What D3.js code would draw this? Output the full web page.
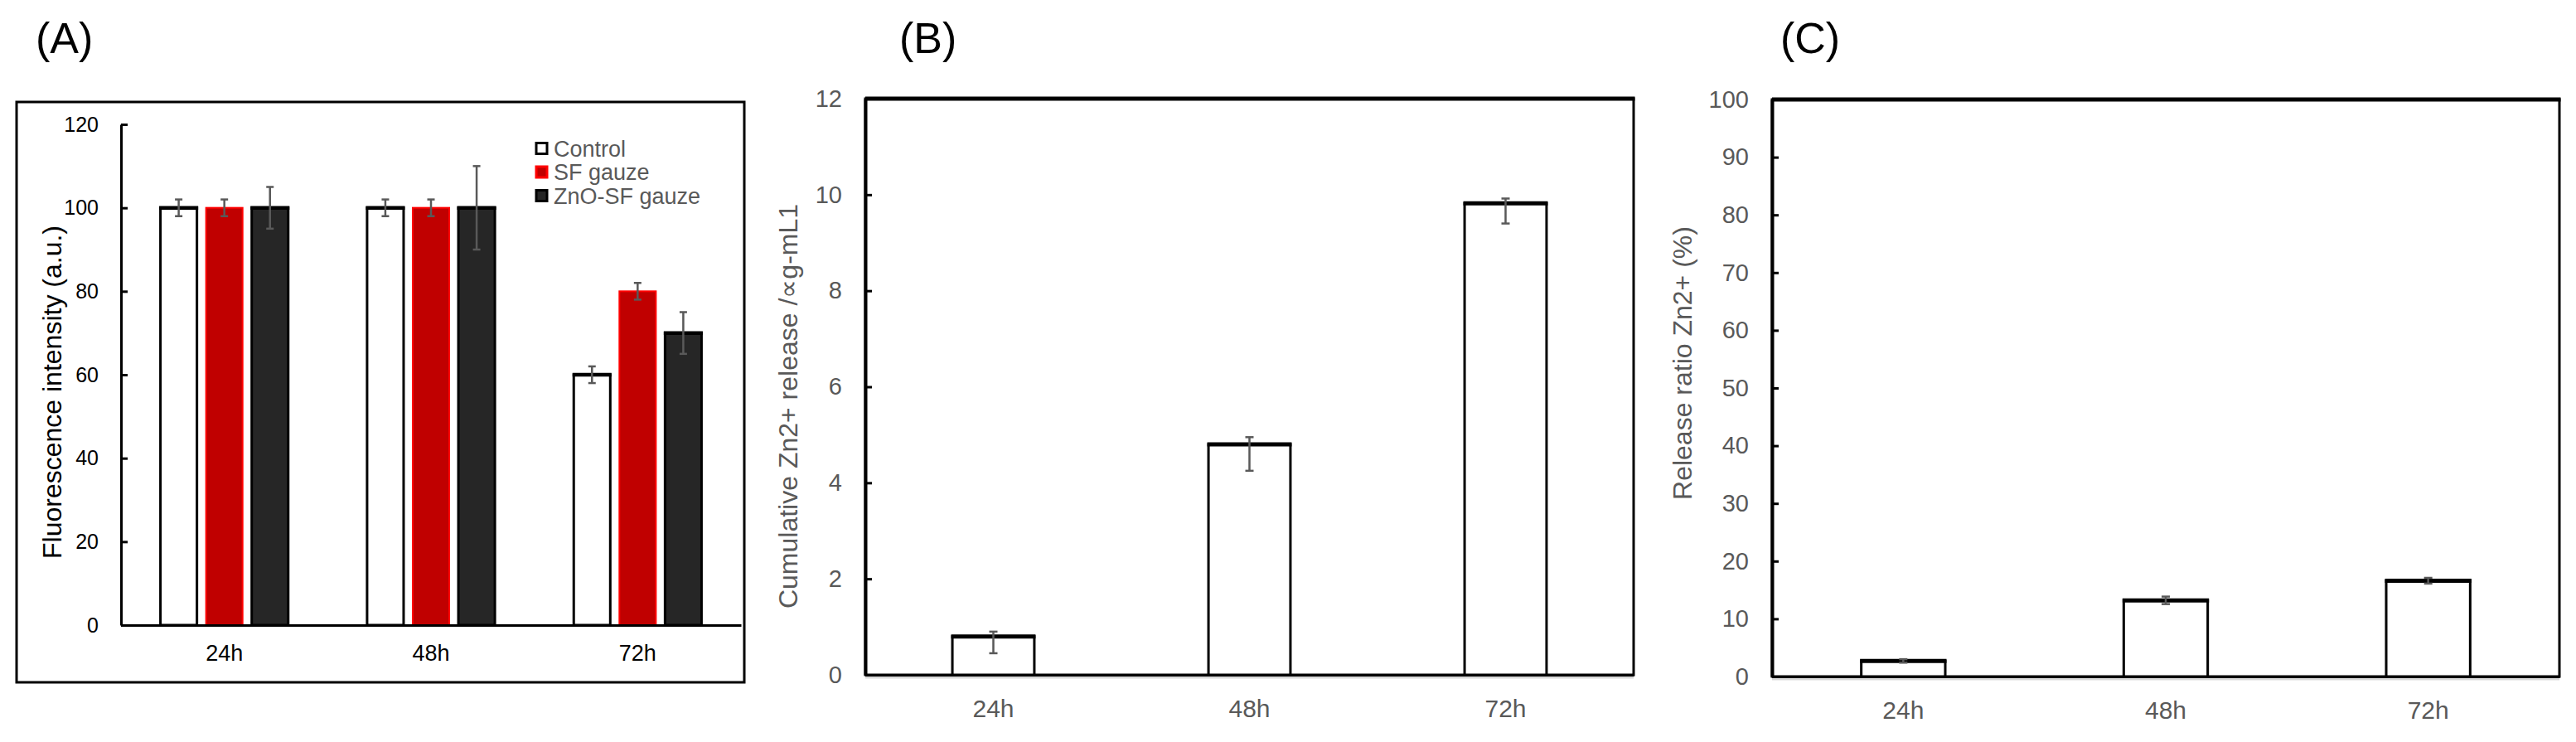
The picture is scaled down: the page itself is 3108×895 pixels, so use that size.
<!DOCTYPE html>
<html>
<head>
<meta charset="utf-8">
<script src="https://cdn.jsdelivr.net/npm/d3@7"></script>
<style>
  body { margin: 0; background: #fff; }
  text { font-family: "Liberation Sans", Arial, sans-serif; }
</style>
</head>
<body>
<div id="chart"></div>
<script>

// ---- DATA ----
let timePoints = ["24h", "48h", "72h"];
let seriesNames = ["Control", "SF gauze", "ZnO-SF gauze"];

// panel A : fluorescence intensity (a.u.)
let controlValues = [100, 100, 60];
let controlErr = [2, 2, 2];
let sfValues = [100, 100, 80];
let sfErr = [2, 2, 2];
let znoValues = [100, 100, 70];
let znoErr = [5, 10, 5];
let ticksA = [0, 20, 40, 60, 80, 100, 120];

// panel B : cumulative Zn2+ release
let releaseValues = [0.8, 4.8, 9.82];
let releaseErrUp = [0.1, 0.15, 0.1];
let releaseErrDown = [0.35, 0.55, 0.42];
let ticksB = [0, 2, 4, 6, 8, 10, 12];

// panel C : release ratio (%)
let ratioValues = [2.7, 13.2, 16.6];
let ratioErr = [0.3, 0.65, 0.5];
let ticksC = [0, 10, 20, 30, 40, 50, 60, 70, 80, 90, 100];

let gray = "#595959";

let svg = d3.select("#chart").append("svg")
    .attr("width", 3108)
    .attr("height", 895);

svg.append("rect").attr("width", 3108).attr("height", 895).attr("fill", "#fff");


// panel letters
[["(A)", 43], ["(B)", 1085], ["(C)", 2148]].forEach(function(p) {
    svg.append("text")
        .attr("x", p[1])
        .attr("y", 64)
        .attr("font-size", 52)
        .attr("fill", "#000")
        .text(p[0]);
});


function styleAxis(g, color, fontSize) {
    g.select(".domain").attr("stroke", "#000").attr("stroke-width", 3);
    g.selectAll(".tick line").attr("stroke", "#000").attr("stroke-width", 3);
    g.selectAll(".tick text")
        .attr("fill", color)
        .attr("font-size", fontSize)
        .attr("font-family", "'Liberation Sans', Arial, sans-serif");
}

function drawErrorBar(g, cx, yTop, yBottom, capW) {
    g.append("line")
        .attr("x1", cx).attr("x2", cx)
        .attr("y1", yTop).attr("y2", yBottom)
        .attr("stroke", gray).attr("stroke-width", 2.5);
    [yTop, yBottom].forEach(function(yy) {
        g.append("line")
            .attr("x1", cx - capW / 2).attr("x2", cx + capW / 2)
            .attr("y1", yy).attr("y2", yy)
            .attr("stroke", gray).attr("stroke-width", 2.5);
    });
}


// ================= PANEL A =================
function renderPanelA() {
    let g = svg.append("g");

    // outer frame of the chart area
    g.append("rect")
        .attr("x", 20).attr("y", 123)
        .attr("width", 878).attr("height", 700)
        .attr("fill", "none").attr("stroke", "#000").attr("stroke-width", 3);

    let x = d3.scaleBand().domain(timePoints).range([146, 894]);
    let xInner = d3.scaleBand().domain(seriesNames)
        .range([0, x.bandwidth()])
        .paddingInner(0.2)
        .paddingOuter(0.864);
    let y = d3.scaleLinear().domain([0, 120]).range([754, 150]);

    let series = [
        {name: "Control", values: controlValues, err: controlErr, fill: "#fff", stroke: "#000", sw: 3, top: true},
        {name: "SF gauze", values: sfValues, err: sfErr, fill: "#c00000", stroke: "#ff0000", sw: 2, top: false},
        {name: "ZnO-SF gauze", values: znoValues, err: znoErr, fill: "#262626", stroke: "#000", sw: 3, top: true}
    ];

    series.forEach(function(s) {
        let rows = timePoints.map((t, i) => ({t: t, v: s.values[i], e: s.err[i]}));
        let bx = d => x(d.t) + xInner(s.name);

        g.selectAll(".bar-" + s.name.replace(/\W/g, ""))
            .data(rows)
            .enter().append("rect")
            .attr("x", bx)
            .attr("y", d => y(d.v))
            .attr("width", xInner.bandwidth())
            .attr("height", d => y(0) - y(d.v))
            .attr("fill", s.fill)
            .attr("stroke", s.stroke)
            .attr("stroke-width", s.sw);

        if (s.top) {
            rows.forEach(function(d) {
                g.append("line")
                    .attr("x1", bx(d) - 1.5).attr("x2", bx(d) + xInner.bandwidth() + 1.5)
                    .attr("y1", y(d.v)).attr("y2", y(d.v))
                    .attr("stroke", "#000").attr("stroke-width", 4.5);
            });
        }
    });

    // axes
    let yAxisG = g.append("g")
        .attr("transform", "translate(146,0)")
        .call(d3.axisLeft(y).tickValues(ticksA).tickSizeInner(-8).tickSizeOuter(0).tickPadding(27));
    styleAxis(yAxisG, "#000", 25);

    let xAxisG = g.append("g")
        .attr("transform", "translate(0,754)")
        .call(d3.axisBottom(x).tickSize(0).tickPadding(24));
    styleAxis(xAxisG, "#000", 27);

    // error bars on top
    series.forEach(function(s) {
        timePoints.forEach(function(t, i) {
            let cx = x(t) + xInner(s.name) + xInner.bandwidth() / 2;
            drawErrorBar(g, cx, y(s.values[i] + s.err[i]), y(s.values[i] - s.err[i]), 9);
        });
    });

    g.append("text")
        .attr("transform", "translate(74,473) rotate(-90)")
        .attr("text-anchor", "middle")
        .attr("font-size", 32)
        .attr("fill", "#000")
        .text("Fluorescence intensity (a.u.)");

    // legend
    let legend = g.append("g");
    series.forEach(function(s, i) {
        let cy = 179 + i * 28.5;
        legend.append("rect")
            .attr("x", 647).attr("y", cy - 6.5)
            .attr("width", 13).attr("height", 13)
            .attr("fill", s.fill)
            .attr("stroke", s.stroke)
            .attr("stroke-width", 3);
        legend.append("text")
            .attr("x", 668).attr("y", cy)
            .attr("dy", "0.36em")
            .attr("font-size", 27)
            .attr("fill", gray)
            .text(s.name);
    });
}


// ================= PANELS B & C =================
function renderSinglePanel(opt) {
    let g = svg.append("g");

    let x = d3.scaleBand().domain(timePoints)
        .range([opt.left, opt.right])
        .paddingInner(0.68)
        .paddingOuter(0.34);
    let y = d3.scaleLinear().domain([0, opt.max]).range([opt.bottom, opt.top]);

    // light grey line just under the category axis
    g.append("line")
        .attr("x1", opt.left).attr("x2", opt.right)
        .attr("y1", opt.bottom + 3).attr("y2", opt.bottom + 3)
        .attr("stroke", "#d9d9d9").attr("stroke-width", 3);

    // plot area border
    g.append("rect")
        .attr("x", opt.left).attr("y", opt.top)
        .attr("width", opt.right - opt.left).attr("height", opt.bottom - opt.top)
        .attr("fill", "none").attr("stroke", "#000").attr("stroke-width", 3);
    g.append("line")
        .attr("x1", opt.left).attr("x2", opt.right + 1.5)
        .attr("y1", opt.top).attr("y2", opt.top)
        .attr("stroke", "#000").attr("stroke-width", 5);

    let rows = timePoints.map((t, i) => ({t: t, v: opt.values[i], up: opt.errUp[i], down: opt.errDown[i]}));

    g.selectAll(".bar")
        .data(rows)
        .enter().append("rect")
        .attr("class", "bar")
        .attr("x", d => x(d.t))
        .attr("y", d => y(d.v))
        .attr("width", x.bandwidth())
        .attr("height", d => y(0) - y(d.v))
        .attr("fill", "#fff")
        .attr("stroke", "#000")
        .attr("stroke-width", 3);

    rows.forEach(function(d) {
        g.append("line")
            .attr("x1", x(d.t) - 1.5).attr("x2", x(d.t) + x.bandwidth() + 1.5)
            .attr("y1", y(d.v)).attr("y2", y(d.v))
            .attr("stroke", "#000").attr("stroke-width", 5);
    });

    let yAxisG = g.append("g")
        .attr("transform", "translate(" + opt.left + ",0)")
        .call(d3.axisLeft(y).tickValues(opt.ticks).tickSizeInner(-8).tickSizeOuter(0).tickPadding(28));
    styleAxis(yAxisG, gray, 29);
    yAxisG.select(".domain").attr("stroke-width", 4);

    let xAxisG = g.append("g")
        .attr("transform", "translate(0," + opt.bottom + ")")
        .call(d3.axisBottom(x).tickSize(0).tickPadding(30));
    styleAxis(xAxisG, gray, 30);

    rows.forEach(function(d) {
        let cx = x(d.t) + x.bandwidth() / 2;
        drawErrorBar(g, cx, y(d.v + d.up), y(d.v - d.down), 10);
    });

    g.append("text")
        .attr("transform", "translate(" + opt.titleX + "," + opt.titleY + ") rotate(-90)")
        .attr("text-anchor", "middle")
        .attr("font-size", 32)
        .attr("fill", gray)
        .text(opt.title);
}


renderPanelA();

renderSinglePanel({
    left: 1044, right: 1971, top: 119, bottom: 814,
    max: 12, ticks: ticksB,
    values: releaseValues, errUp: releaseErrUp, errDown: releaseErrDown,
    title: "Cumulative Zn2+ release /\u221Dg-mL1", titleX: 962, titleY: 490
});

renderSinglePanel({
    left: 2138, right: 3088, top: 120, bottom: 816,
    max: 100, ticks: ticksC,
    values: ratioValues, errUp: ratioErr, errDown: ratioErr,
    title: "Release ratio Zn2+ (%)", titleX: 2041, titleY: 438
});

</script>
</body>
</html>
